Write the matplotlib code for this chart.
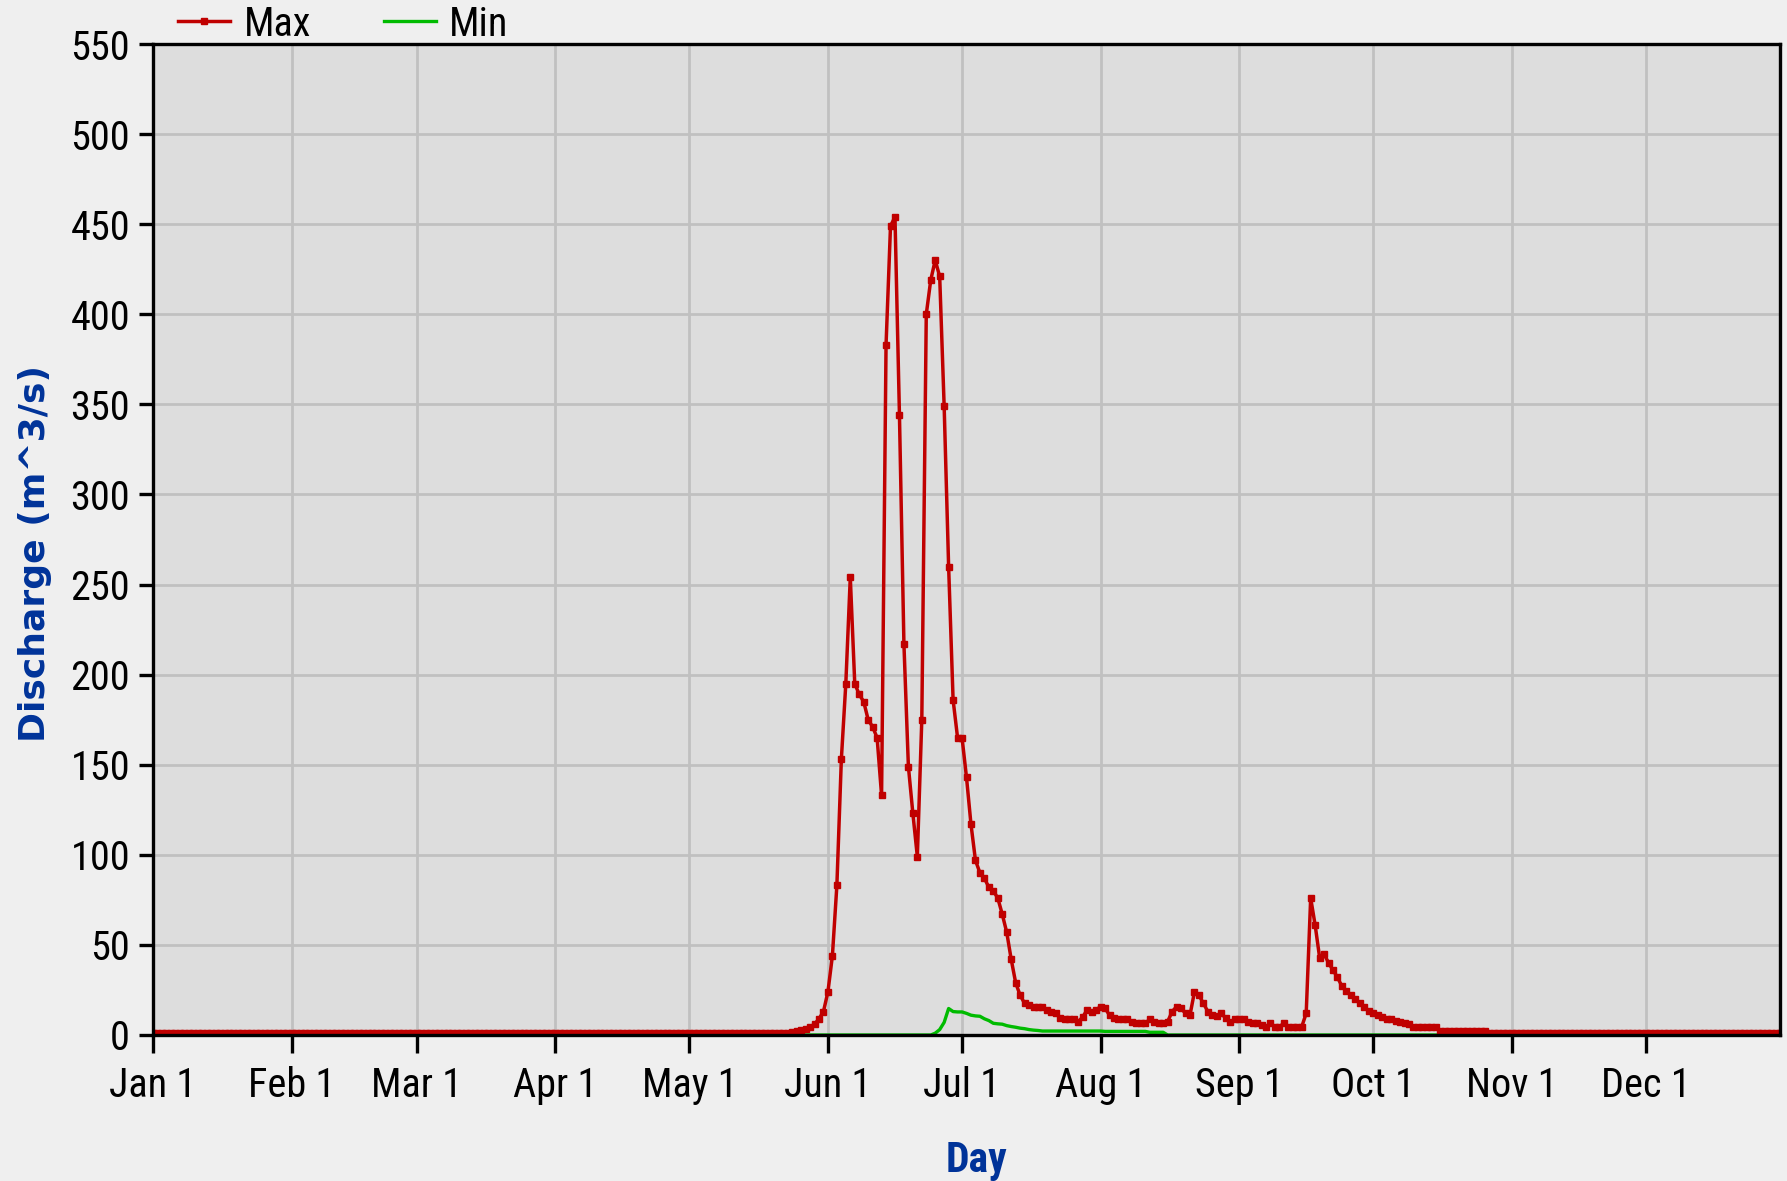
import matplotlib
matplotlib.use("Agg")
import matplotlib.pyplot as plt
from matplotlib import font_manager

# ---------------- data ----------------
month_ticks = [0, 31, 59, 90, 120, 151, 181, 212, 243, 273, 304, 334]
month_labels = ["Jan 1", "Feb 1", "Mar 1", "Apr 1", "May 1", "Jun 1",
                "Jul 1", "Aug 1", "Sep 1", "Oct 1", "Nov 1", "Dec 1"]
y_ticks = list(range(0, 551, 50))

# Max series: day index (0 = Jan 1) and discharge
max_days = list(range(0, 365))
max_values = (
    [1.3] * 143 +                                   # days 0-142
    [1.5, 2, 2.5, 3.5, 4.5, 6, 9, 13,               # 143-150
     24, 44, 83, 153, 195, 254, 195, 189, 185, 175,  # 151-160
     171, 165, 133, 383, 449, 454, 344, 217, 149, 123,  # 161-170
     99, 175, 400, 419, 430, 421, 349, 260, 186, 165,   # 171-180
     165, 143, 117, 97, 90, 87, 82, 80, 76, 67,          # 181-190
     57, 42, 29, 22, 17.6, 16.7, 15.4, 15.4, 15.4, 14,   # 191-200
     13, 12, 9.3, 8.7, 8.7, 8.7, 7.4, 10, 14, 13,        # 201-210
     14, 15.7, 14.8, 11, 9.3, 8.7, 8.7, 8.7, 7.4, 6.5,   # 211-220
     6.5, 6.5, 8.7, 7.4, 6.5, 6.5, 7.4, 13, 15.7, 14.8,  # 221-230
     12, 11, 24, 22, 17.6, 13, 11, 10.7, 12, 9.3,        # 231-240
     7.4, 8.7, 8.7, 8.7, 7.4, 6.5, 6.5, 5.6, 4.6, 6.5,   # 241-250
     4.6, 4.6, 6.5, 4.6, 4.6, 4.6, 4.6, 12, 76, 61,      # 251-260
     43, 45, 40, 36, 32, 27, 24.5, 22, 20, 17.5,         # 261-270
     15.5, 13.5, 12, 11, 10, 9, 9, 8, 7, 6.5,            # 271-280
     6] +                                            # 281
    [4.7] * 6 +                                     # 282-287
    [2.3] * 11 +                                    # 288-298
    [1.3] * 66                                      # 299-364
)

# Min series
min_days = list(range(0, 365))
min_values = (
    [0] * 175 +                                     # 0-174
    [1, 3, 7, 14.7, 13, 12.8, 12.8, 12, 11, 10.6,   # 175-184
     10.4, 9, 8, 6.5, 6.2, 6, 5.2, 4.7, 4.3, 3.8,   # 185-194
     3.5, 3, 2.7, 2.5] +                            # 195-198
    [2.2] * 14 +                                    # 199-212
    [2] * 10 +                                      # 213-222
    [1.5] * 4 +                                     # 223-226
    [0] * 138                                       # 227-364
)

# ---------------- fonts ----------------
names = {f.name for f in font_manager.fontManager.ttflist}
narrow = "DejaVu Sans"
for cand in ["Liberation Sans Narrow", "Roboto Condensed", "PT Sans Narrow",
             "Archivo Narrow", "Barlow Semi Condensed"]:
    if cand in names:
        narrow = cand
        break

# ---------------- figure ----------------
W, H = 1787, 1181
fig = plt.figure(figsize=(W / 100, H / 100), dpi=100)
fig.patch.set_facecolor("#EFEFEF")
ax = fig.add_axes([153 / W, 1 - 1035 / H, (1780 - 153) / W, (1035 - 44) / H])
ax.set_facecolor("#DDDDDD")

red = "#C00000"
green = "#00BB00"

l_min, = ax.plot(min_days, min_values, color=green, lw=2.4, label="Min", zorder=2)
l_max, = ax.plot(max_days, max_values, color=red, lw=2.5, marker="s", ms=4.0,
                 mec=red, mfc=red, label="Max", zorder=3)

ax.set_xlim(0, 364)
ax.set_ylim(0, 550)
ax.set_xticks(month_ticks)
ax.set_xticklabels(month_labels)
ax.set_yticks(y_ticks)
ax.set_yticklabels([str(v) for v in y_ticks])

ax.grid(True, color="#C0C0C0", lw=2.0)
ax.set_axisbelow(True)

for sp in ax.spines.values():
    sp.set_linewidth(2.4)
    sp.set_color("black")
    sp.set_zorder(5)

ax.tick_params(axis="x", direction="out", length=13, width=2.4, pad=9,
               labelsize=29, colors="black")
ax.tick_params(axis="y", direction="out", length=10, width=2.4, pad=6.5,
               labelsize=29, colors="black")
for lab in ax.get_xticklabels() + ax.get_yticklabels():
    lab.set_fontfamily(narrow)

# axis titles
fig.text(976 / W, 1 - 1172 / H, "Day", ha="center", va="baseline",
         fontsize=30, fontweight="bold", color="#003399", family=narrow)
fig.text(35 / W, 1 - 554 / H, "Discharge (m^3/s)", ha="center", va="center",
         rotation=90, fontsize=26, fontweight="bold", color="#003399",
         family="DejaVu Sans")

# legend above the plot
leg = fig.legend(handles=[l_max, l_min], labels=["Max", "Min"],
                 loc="center left", bbox_to_anchor=(178 / W, 1 - 24 / H),
                 ncol=2, frameon=False, prop={"family": narrow, "size": 29},
                 handlelength=1.3, handletextpad=0.33, columnspacing=1.8,
                 borderpad=0, borderaxespad=0, markerscale=1.0)

fig.savefig("out.png", dpi=100, facecolor=fig.get_facecolor())
